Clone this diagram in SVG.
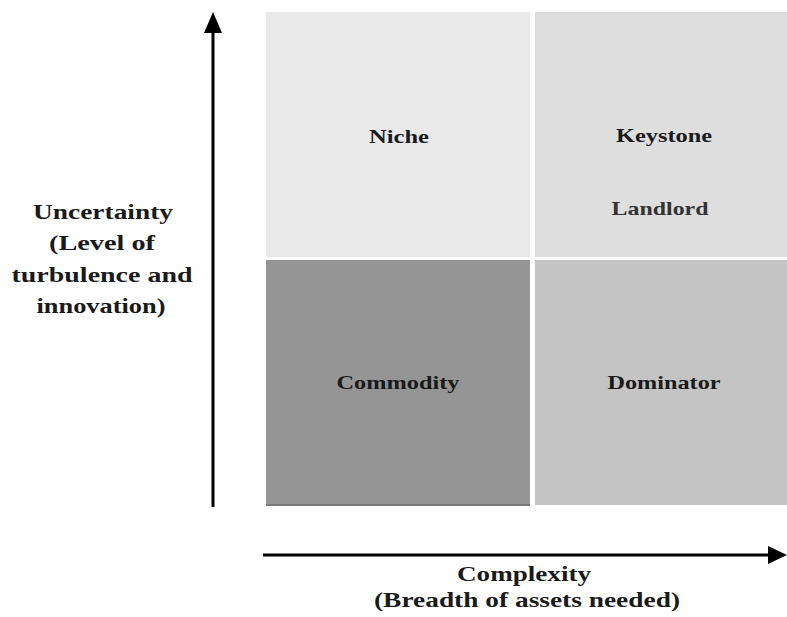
<svg xmlns="http://www.w3.org/2000/svg" width="787" height="617" viewBox="0 0 787 617">
<style>
text{font-family:"Liberation Serif","Times New Roman",serif;font-weight:bold;fill:#1a1a1a;text-anchor:middle}
.q{font-size:19px}
.ax{font-size:22px}
.arrow{fill:none;stroke:#000;stroke-width:3}
</style>
<rect width="787" height="617" fill="#fff"/>
<g id="niche"><rect x="266" y="12" width="264" height="245" fill="#e9e9e9"/><text class="q" x="399" y="143" textLength="60" lengthAdjust="spacingAndGlyphs">Niche</text></g>
<g id="keystone"><rect x="535" y="12" width="252" height="245" fill="#dedede"/><text class="q" x="664" y="142" textLength="96" lengthAdjust="spacingAndGlyphs">Keystone</text><text class="q" x="660" y="215" textLength="97" lengthAdjust="spacingAndGlyphs" style="fill:#333">Landlord</text></g>
<g id="commodity"><rect x="266" y="260" width="264" height="246" fill="#959595"/><rect x="266" y="504" width="264" height="2" fill="#7a7a7a"/><text class="q" x="398" y="389" textLength="123" lengthAdjust="spacingAndGlyphs">Commodity</text></g>
<g id="dominator"><rect x="535" y="260" width="252" height="245" fill="#c4c4c4"/><text class="q" x="664" y="389" textLength="113" lengthAdjust="spacingAndGlyphs">Dominator</text></g>
<g id="y-label">
<text class="ax" x="103" y="219" textLength="140" lengthAdjust="spacingAndGlyphs">Uncertainty</text>
<text class="ax" x="102" y="250" textLength="106" lengthAdjust="spacingAndGlyphs">(Level of</text>
<text class="ax" x="102" y="282" textLength="181" lengthAdjust="spacingAndGlyphs">turbulence and</text>
<text class="ax" x="101" y="313" textLength="129" lengthAdjust="spacingAndGlyphs">innovation)</text>
</g>
<g id="x-label">
<text class="ax" x="524" y="581" textLength="134" lengthAdjust="spacingAndGlyphs">Complexity</text>
<text class="ax" x="527" y="607" textLength="306" lengthAdjust="spacingAndGlyphs">(Breadth of assets needed)</text>
</g>
<g id="connectors">
<path class="arrow" d="M213 507 V30"/>
<path d="M213 12 L204 33 L222 33 Z" fill="#000"/>
<path class="arrow" d="M263 555 H772"/>
<path d="M787 555 L768 546 L768 564 Z" fill="#000"/>
</g>
</svg>
